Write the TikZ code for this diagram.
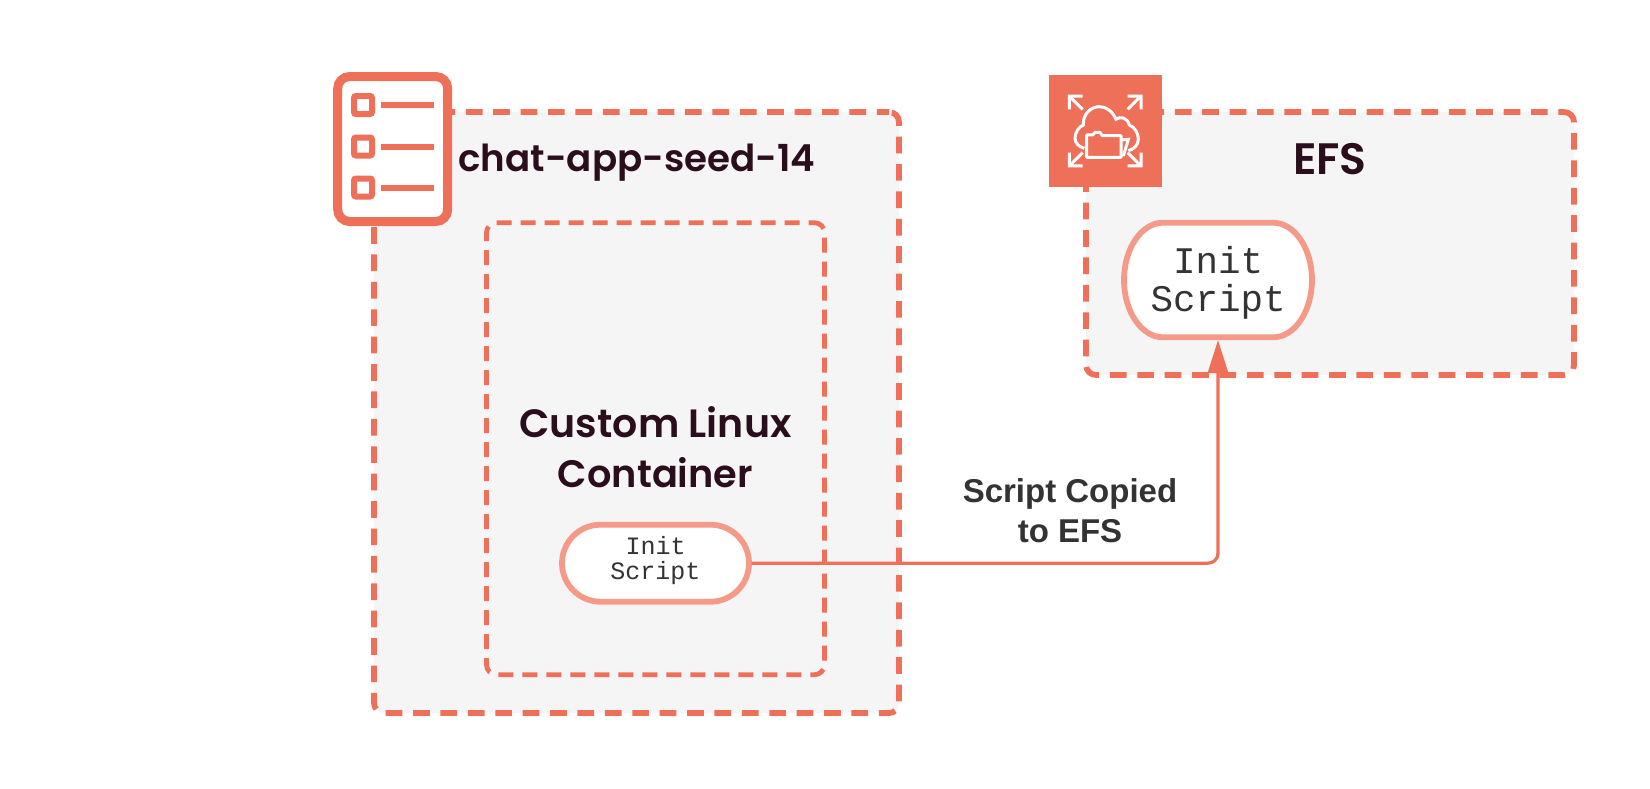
\documentclass[tikz,border=0pt]{standalone}
\usepackage{fontspec}
\setmainfont{Poppins}
\newfontfamily\headfont{Poppins SemiBold}
\newfontfamily\labelfont{Liberation Sans}
\newfontfamily\codefont{Liberation Mono}
\usetikzlibrary{arrows.meta}
\definecolor{coral}{HTML}{EE7059}
\definecolor{palecoral}{HTML}{F59A89}
\definecolor{panel}{HTML}{F5F5F5}
\definecolor{heading}{HTML}{2A0E1C}
\definecolor{ink}{HTML}{333333}
\tikzset{
  outerbox/.style={draw=coral,fill=panel,line width=5.8pt,rounded corners=10pt,dash pattern=on 16.7pt off 10.7pt,inner sep=0pt,outer sep=0pt},
  innerbox/.style={draw=coral,fill=panel,line width=4.8pt,rounded corners=10pt,dash pattern=on 15pt off 9pt,inner sep=0pt,outer sep=0pt},
  pill/.style={draw=palecoral,fill=white,line width=5.8pt,inner sep=0pt,outer sep=2.7pt},
  pilltext/.style={text=ink,align=center,inner sep=0pt},
  title/.style={text=heading,align=center,inner sep=0pt},
  flow/.style={draw=coral,line width=3.2pt,rounded corners=10pt,-{Triangle[length=33pt,width=20pt]}},
  flowlabel/.style={text=ink,font=\labelfont\bfseries\fontsize{33}{40}\selectfont,align=center,inner sep=0pt},
  iconline/.style={draw=white,line width=3pt,line join=miter},
  listline/.style={draw=coral,line width=6pt},
  listbox/.style={draw=coral,fill=none,line width=6pt,rounded corners=2pt,minimum size=18pt,inner sep=0pt,outer sep=0pt}
}
\begin{document}
\begin{tikzpicture}[x=1pt,y=-1pt]
\useasboundingbox (0,0) rectangle (1650,788);
\fill[white] (0,0) rectangle (1650,788);
% panels
\node[outerbox,dash phase=4.5pt,minimum width=525pt,minimum height=601pt] (seed) at (636.5,412.5) {};
\node[innerbox,dash phase=9pt,minimum width=338pt,minimum height=452pt] (container) at (655.5,448.7) {};
\node[outerbox,dash phase=11.1pt,minimum width=488pt,minimum height=263pt] (efs) at (1330,243.5) {};
% pills
\node[pill,rounded corners=38.5pt,minimum width=187pt,minimum height=77pt] (small) at (655.5,563.2) {};
\node[pilltext,font=\codefont\fontsize{25}{25}\selectfont] (smalltext) at (655.5,561) {Init\\Script};
\fill[white,draw=palecoral,line width=5.8pt] (1124,280)
   .. controls (1124,248.5) and (1141.5,222.7) .. (1163,222.7) -- (1273,222.7)
   .. controls (1294.5,222.7) and (1312,248.5) .. (1312,280)
   .. controls (1312,311.5) and (1294.5,337.3) .. (1273,337.3) -- (1163,337.3)
   .. controls (1141.5,337.3) and (1124,311.5) .. (1124,280) -- cycle;
\node[pilltext,minimum width=188pt,minimum height=114pt,outer sep=2.7pt,font=\codefont\fontsize{37.5}{38}\selectfont] (large) at (1218,283) {Init\\Script};
\coordinate (largefoot) at (1218,340);
% connector
\draw[flow] (small.east) -| (largefoot);
% titles
\node[title,font=\headfont\fontsize{37.2}{50}\selectfont] (seedtitle) at (637,162.5) {chat-app-seed-14};
\node[title,font=\headfont\fontsize{39.5}{50}\selectfont] (contitle) at (655.5,447) {Custom Linux\\{\fontsize{38.3}{50}\selectfont Container}};
\node[title,font=\headfont\fontsize{44}{50}\selectfont] (efstitle) at (1330,159) {EFS};
\node[flowlabel] (flowtext) at (1070,511) {Script Copied\\to EFS};
% list icon
\node[draw=coral,fill=white,line width=9pt,rounded corners=12pt,minimum width=110pt,minimum height=145pt,inner sep=0pt,outer sep=0pt] (listicon) at (392.7,149) {};
\foreach \yy/\nm in {105/a,146.5/b,187.5/c}{
  \node[listbox] (box\nm) at (363,\yy) {};
  \coordinate (end\nm) at (434,\yy);
  \draw[listline] (box\nm.east) ++(9pt,0) -- (end\nm);
}
% EFS icon
\node[fill=coral,minimum width=112.7pt,minimum height=112.3pt,inner sep=0pt,outer sep=0pt] (efsicon) at (1105.3,131.2) {};
\begin{scope}[shift={(1040,70)},x=0.3333pt,y=-0.3333pt]
  \draw[iconline] (88,118) -- (88,78) -- (128,78) (88,78) -- (128,118);
  \draw[iconline] (263,78) -- (303,78) -- (303,118) (303,78) -- (263,118);
  \draw[iconline] (88,248) -- (88,288) -- (128,288) (88,288) -- (128,248);
  \draw[iconline] (263,288) -- (303,288) -- (303,248) (303,288) -- (263,248);
  \draw[iconline] (133,235) .. controls (115,230) and (105,218) .. (105,205)
     .. controls (105,185) and (118,170) .. (130,165)
     .. controls (128,130) and (155,110) .. (178,110)
     .. controls (200,110) and (218,125) .. (228,148)
     .. controls (240,138) and (262,142) .. (268,165)
     .. controls (285,172) and (295,190) .. (295,207)
     .. controls (295,225) and (282,238) .. (265,242);
  \draw[iconline,line join=round] (140,262) -- (140,195) -- (158,195) -- (165,187) -- (180,187) -- (187,197) -- (243,197) -- (243,262) -- cycle;
  \draw[iconline] (243,210) -- (265,208) -- (250,258);
\end{scope}
\end{tikzpicture}
\end{document}
